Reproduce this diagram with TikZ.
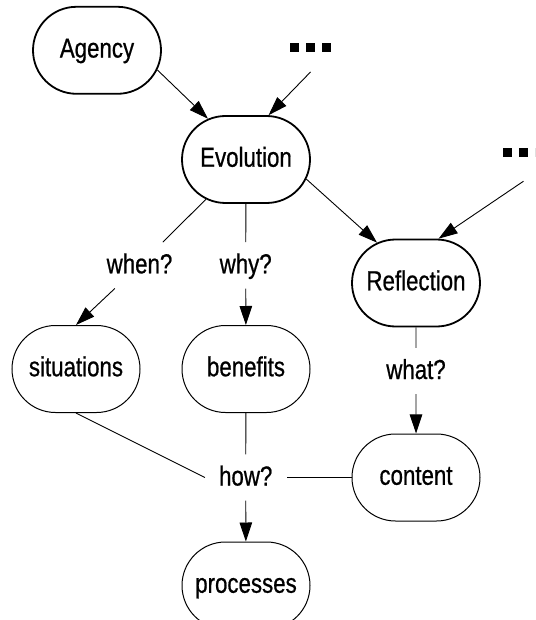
\documentclass[tikz,border=0pt]{standalone}
\usepackage{fontspec}
\setmainfont{Liberation Sans}[FakeStretch=0.81,FakeBold=0.7]
\usetikzlibrary{arrows.meta,shapes.misc}

\tikzset{
  txt/.style={font=\fontsize{27.5}{30}\selectfont},
  box/.style={rounded rectangle, draw, txt, minimum width=128pt, minimum height=87pt,
    inner sep=0pt, text height=20pt, text depth=5.5pt, line width=1pt},
  mainbox/.style={box, line width=1.8pt},
  qlabel/.style={txt, inner xsep=14pt, inner ysep=11pt, text height=20pt, text depth=4pt},
  link/.style={line width=0.9pt},
  arr/.style={link, -{Triangle[length=19pt,width=12.5pt]}},
  dotrow/.style={minimum width=41pt, minimum height=9pt, inner sep=0pt,
    path picture={
      \fill (path picture bounding box.south west) rectangle ++(9pt,9pt);
      \fill ([xshift=16pt]path picture bounding box.south west) rectangle ++(9pt,9pt);
      \fill ([xshift=32pt]path picture bounding box.south west) rectangle ++(9pt,9pt);
    }},
}

\begin{document}
\begin{tikzpicture}[x=1pt,y=-1pt]
  \useasboundingbox (0,0) rectangle (535,620);
  \clip (0,0) rectangle (535,620);

  % concepts
  \node[mainbox] (agency) at (97,50.3)   {Agency};
  \node[mainbox] (evo)    at (246,159.5) {Evolution};
  \node[mainbox] (refl)   at (416,283)   {Reflection};
  \node[box]     (sit)    at (76,369)    {situations};
  \node[box]     (ben)    at (246,369)   {benefits};
  \node[box]     (cont)   at (416,477.5) {content};
  \node[box]     (proc)   at (246,585.5) {processes};

  % elided inputs
  \node[dotrow] (more1) at (310.5,47.3) {};
  \node[dotrow] (more2) at (523.5,152.5) {};

  % question labels
  \node[qlabel] (lwhen) at (139.5,265.3) {when?};
  \node[qlabel] (lwhy)  at (245.7,265.3) {why?};
  \node[qlabel] (lwhat) at (416,371)     {what?};
  \node[qlabel] (lhow)  at (245.7,477.5) {how?};

  % incoming edges
  \draw[arr] (agency.-18.5) -- (evo.133.7);
  \draw[arr] ([yshift=-20pt]more1.south) -- (evo.63);
  \draw[arr] (evo.-18.8) -- (refl.134.7);
  \draw[arr] ([yshift=-24pt]more2.south) -- (refl.63.2);

  % questions
  \draw[link] (evo) -- (lwhen);
  \draw[arr]  (lwhen) -- (sit.north);
  \draw[link] (evo) -- (lwhy);
  \draw[arr]  (lwhy) -- (ben);
  \draw[link] (refl) -- (lwhat);
  \draw[arr]  (lwhat) -- (cont);
  \draw[link] (sit.south) -- (lhow.west);
  \draw[link] (ben) -- (lhow);
  \draw[link] (cont) -- (lhow);
  \draw[arr]  (lhow) -- (proc);
\end{tikzpicture}
\end{document}
